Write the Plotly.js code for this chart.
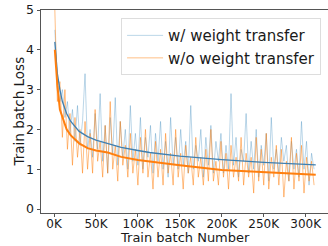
<!DOCTYPE html>
<html>
<head>
<meta charset="utf-8">
<script src="https://cdn.plot.ly/plotly-3.0.1.min.js"></script>
<style>html,body{margin:0;padding:0;background:#fff;}#chart{width:328px;height:246px;}</style>
</head>
<body>
<div id="chart"></div>
<script>
// raw batch losses, sampled every 3K batches starting at 1K (x in thousands)
const rawStartK = 1;
const rawStepK = 3;
const rawWith = [4.5,3.3,2.7,3.0,2.3,2.7,1.9,2.5,1.7,2.6,1.6,2.2,3.4,1.5,2.0,1.3,2.4,1.5,2.9,1.2,
  2.1,0.9,2.3,1.4,2.8,1.1,2.2,1.3,2.0,1.0,2.6,1.2,1.9,1.1,2.3,1.0,1.8,1.3,2.1,0.9,
  1.9,1.2,2.2,1.0,1.7,0.8,2.3,1.1,1.8,1.0,2.0,1.1,1.7,0.9,2.6,1.0,1.6,1.2,2.0,0.8,
  1.8,1.1,2.1,0.9,1.7,1.2,1.9,0.9,1.6,1.0,2.9,1.1,1.8,0.8,1.5,1.2,2.4,0.9,1.7,1.0,
  2.0,0.8,1.6,1.1,1.9,0.7,2.3,1.0,1.5,0.9,1.8,1.2,1.6,0.7,1.7,1.0,1.5,0.8,2.2,1.0,
  1.7,0.6,1.4,1.0];
const rawWithout = [5.0,2.7,3.2,1.8,3.0,1.5,2.4,1.1,2.3,1.3,2.0,0.9,2.2,1.0,1.9,0.9,2.5,1.2,1.7,0.8,
  2.1,0.9,2.7,1.0,1.6,0.7,2.2,1.1,1.6,0.8,1.9,0.9,1.5,0.6,1.8,0.9,2.0,0.8,1.4,0.5,
  1.7,0.8,1.5,0.6,1.9,0.9,1.4,0.6,2.0,0.8,1.4,0.5,1.6,0.9,1.3,0.6,1.8,0.8,1.3,0.6,
  1.5,0.7,2.0,0.7,1.2,0.6,1.7,0.8,1.4,0.5,1.6,0.8,1.3,0.7,1.8,0.6,1.4,0.8,1.3,0.4,
  1.8,0.7,1.5,0.6,1.9,0.5,1.3,0.8,1.6,0.6,1.5,0.3,1.2,0.7,1.8,0.5,1.4,0.7,1.6,0.4,
  1.3,0.7,1.2,0.6];
// smoothed curves
const smoothX = [1,4,7,10,15,20,30,40,50,64,80,100,114,150,200,250,312];
const smoothWith = [4.2,3.4,3.0,2.7,2.4,2.2,1.95,1.82,1.73,1.65,1.55,1.47,1.42,1.33,1.24,1.17,1.11];
const smoothWithout = [4.0,3.1,2.5,2.3,2.0,1.85,1.65,1.53,1.47,1.42,1.31,1.23,1.19,1.10,0.98,0.93,0.86];
const xTickVals = [0,50,100,150,200,250,300];
const xTickText = ['0K','50K','100K','150K','200K','250K','300K'];
const yTickVals = [0,1,2,3,4,5];
const seriesNames = ['w/ weight transfer','w/o weight transfer'];
const xTitle = 'Train batch Number';
const yTitle = 'Train batch Loss';

const rawX = rawWith.map((_, i) => rawStartK + i * rawStepK);
const font = 'DejaVu Sans, sans-serif';
const traces = [
  {x: rawX, y: rawWith, type: 'scatter', mode: 'lines', name: seriesNames[0],
   line: {color: 'rgba(31,119,180,0.3)', width: 1}},
  {x: rawX, y: rawWithout, type: 'scatter', mode: 'lines', name: seriesNames[1],
   line: {color: 'rgba(255,127,14,0.5)', width: 1}},
  {x: smoothX, y: smoothWith, type: 'scatter', mode: 'lines', showlegend: false,
   line: {color: '#3f7fb0', width: 1.3}},
  {x: smoothX, y: smoothWithout, type: 'scatter', mode: 'lines', showlegend: false,
   line: {color: '#ff7f0e', width: 2}}
];
const layout = {
  width: 328, height: 246,
  margin: {l: 41, r: 0, t: 10, b: 33},
  paper_bgcolor: '#fff', plot_bgcolor: '#fff',
  font: {family: font, size: 12, color: '#1a1a1a'},
  xaxis: {range: [-15.5, 326.6], tickvals: xTickVals, ticktext: xTickText,
    showgrid: false, zeroline: false, showline: true, mirror: true, linecolor: '#555', linewidth: 1,
    ticks: 'outside', ticklen: 3, tickcolor: '#555', tickfont: {size: 12}, ticklabelstandoff: -3},
  yaxis: {range: [-0.1, 5], tickvals: yTickVals,
    showgrid: false, zeroline: false, showline: true, linecolor: '#555', linewidth: 1,
    ticks: 'outside', ticklen: 3.5, tickcolor: '#555', tickfont: {size: 12.5}},
  annotations: [
    {text: xTitle, xref: 'paper', yref: 'paper', x: 0.503, y: -0.163, borderpad: 0,
     xanchor: 'center', yanchor: 'bottom', showarrow: false, font: {size: 13, color: '#1a1a1a'}},
    {text: yTitle, xref: 'paper', yref: 'paper', x: -0.08, y: 0.5, textangle: -90,
     xanchor: 'center', yanchor: 'middle', showarrow: false, font: {size: 13.5, color: '#1a1a1a'}}
  ],
  legend: {x: 0.279, y: 0.96, xanchor: 'left', yanchor: 'top',
    bgcolor: 'rgba(255,255,255,0.9)', bordercolor: '#ddd', borderwidth: 1,
    font: {size: 15, color: '#1a1a1a'}, tracegroupgap: 0, itemwidth: 36},
  showlegend: true
};
Plotly.newPlot('chart', traces, layout, {staticPlot: true, displayModeBar: false});
</script>
</body>
</html>
